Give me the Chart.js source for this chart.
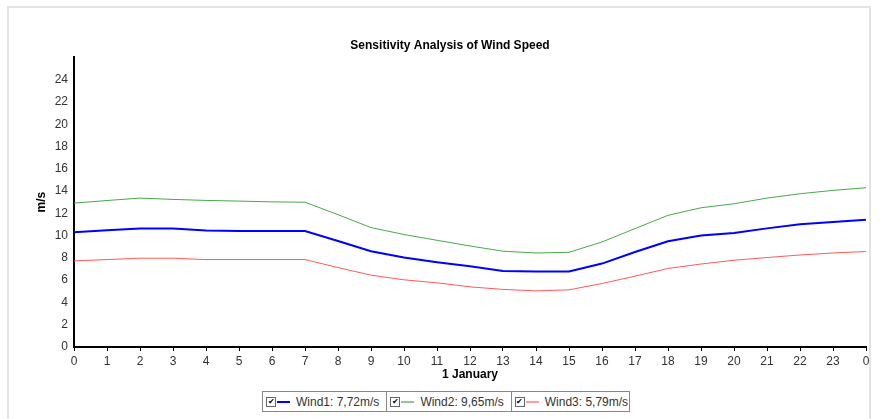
<!DOCTYPE html>
<html>
<head>
<meta charset="utf-8">
<script src="https://cdn.jsdelivr.net/npm/chart.js@4.4.1/dist/chart.umd.min.js"></script>
<style>
	body { margin: 0; background: #fff; font-family: "Liberation Sans", Arial, sans-serif; }
	#wrap { position: relative; width: 880px; height: 419px; overflow: hidden; }
	#frame { position: absolute; left: 7px; top: 6px; width: 860px; height: 430px; border: 2px solid #e4e4e4; }
	#chartView { position: absolute; left: 0; top: 0; }
	#legend { position: absolute; left: 262px; top: 391px; display: flex; border: 1px solid #888; background: #fff; }
	.cell { display: flex; align-items: center; height: 19px; padding: 0 7px 0 3px; border-left: 1px solid #888; font-size: 12px; color: #333; cursor: pointer; }
	.cell:first-child { border-left: none; }
	.cell:last-child { padding-right: 1px; }
	.box { width: 8px; height: 8px; border: 1px solid #666; font-size: 8px; line-height: 8px; text-align: center; color: #000; margin-right: 1px; }
	.mark { width: 13px; height: 0; margin-right: 6px; }
</style>
</head>
<body>
<div id="wrap">
	<div id="frame"></div>
	<canvas id="chartView" width="880" height="419"></canvas>
	<div id="legend"></div>
</div>
<script>
var hourLabels = ['0', '1', '2', '3', '4', '5', '6', '7', '8', '9', '10', '11', '12', '13', '14', '15', '16', '17', '18', '19', '20', '21', '22', '23', '0'];

var wind1 = [10.3, 10.48, 10.63, 10.63, 10.47, 10.41, 10.41, 10.41, 9.52, 8.6, 8.03, 7.61, 7.25, 6.83, 6.78, 6.78, 7.49, 8.53, 9.49, 10.0, 10.23, 10.65, 11.01, 11.22, 11.43];
var wind2 = [12.92, 13.15, 13.37, 13.25, 13.16, 13.1, 13.03, 13.0, 11.88, 10.72, 10.1, 9.58, 9.07, 8.6, 8.44, 8.5, 9.43, 10.63, 11.82, 12.5, 12.86, 13.37, 13.76, 14.06, 14.3];
var wind3 = [7.73, 7.85, 7.97, 7.97, 7.85, 7.85, 7.85, 7.85, 7.13, 6.45, 6.03, 5.76, 5.4, 5.17, 5.04, 5.13, 5.7, 6.36, 7.05, 7.45, 7.79, 8.03, 8.26, 8.44, 8.57];

var seriesNames = ['Wind1', 'Wind2', 'Wind3'];
var seriesMeans = ['7,72m/s', '9,65m/s', '5,79m/s'];
var seriesColors = ['#0000ff', '#4aa84a', '#ff5a5a'];
var seriesWidths = [2, 1, 1];

var chart;
var fontName = '"Liberation Sans", Arial, sans-serif';

function WindSet(i, values) {
	return {
		label: seriesNames[i] + ': ' + seriesMeans[i],
		data: values,
		borderColor: seriesColors[i],
		backgroundColor: 'transparent',
		borderWidth: seriesWidths[i],
		pointRadius: 0,
		tension: 0
	};
}

function InitChart() {
	var ctx = document.getElementById('chartView').getContext('2d');

	chart = new Chart(ctx, {
		type: 'line',
		data: {
			labels: hourLabels,
			datasets: [
				WindSet(0, wind1),
				WindSet(1, wind2),
				WindSet(2, wind3)
			]
		},
		options: {
			responsive: false,
			animation: false,
			layout: { padding: { left: 34, right: 14, top: 0, bottom: 0 } },
			plugins: {
				legend: { display: false },
				tooltip: { enabled: false },
				title: {
					display: true,
					text: 'Sensitivity Analysis of Wind Speed',
					color: '#000',
					font: { family: fontName, size: 12, weight: 'bold' },
					padding: { top: 38, bottom: 5 }
				}
			},
			scales: {
				x: {
					type: 'category',
					offset: false,
					afterFit: function (scale) { scale.height = 72; },
					grid: { display: true, drawOnChartArea: false, drawTicks: true, tickLength: 4, color: '#000' },
					border: { display: true, color: '#000', width: 2 },
					ticks: { autoSkip: false, maxRotation: 0, color: '#333', padding: 3, font: { family: fontName, size: 12 } },
					title: {
						display: true,
						text: '1 January',
						color: '#000',
						font: { family: fontName, size: 12, weight: 'bold' },
						padding: { top: 0, bottom: 37 }
					}
				},
				y: {
					min: 0,
					max: 26,
					afterFit: function (scale) { scale.width = 40; },
					grid: { display: false, drawTicks: false },
					border: { display: true, color: '#000', width: 2 },
					ticks: {
						stepSize: 2,
						color: '#333',
						padding: 6,
						font: { family: fontName, size: 12 },
						callback: function (v) { return v > 24 ? '' : v; }
					},
					title: {
						display: true,
						text: 'm/s',
						color: '#000',
						font: { family: fontName, size: 12, weight: 'bold' },
						padding: { top: 0, bottom: 0 }
					}
				}
			}
		}
	});

	BuildLegend();
}

function BuildLegend() {
	var legend = document.getElementById('legend');
	legend.innerHTML = '';
	seriesNames.map(function (name, i) {
		var cell = document.createElement('div');
		cell.className = 'cell';
		var box = document.createElement('span');
		box.className = 'box';
		box.textContent = chart.isDatasetVisible(i) ? '\u2714' : '';
		var mark = document.createElement('span');
		mark.className = 'mark';
		mark.style.borderTop = '2px solid ' + seriesColors[i];
		mark.style.opacity = i == 0 ? 1 : 0.6;
		var text = document.createElement('span');
		text.textContent = name + ': ' + seriesMeans[i];
		cell.appendChild(box);
		cell.appendChild(mark);
		cell.appendChild(text);
		cell.addEventListener('click', function () {
			chart.setDatasetVisibility(i, !chart.isDatasetVisible(i));
			chart.update();
			BuildLegend();
		});
		legend.appendChild(cell);
	});
}

InitChart();
</script>
</body>
</html>
